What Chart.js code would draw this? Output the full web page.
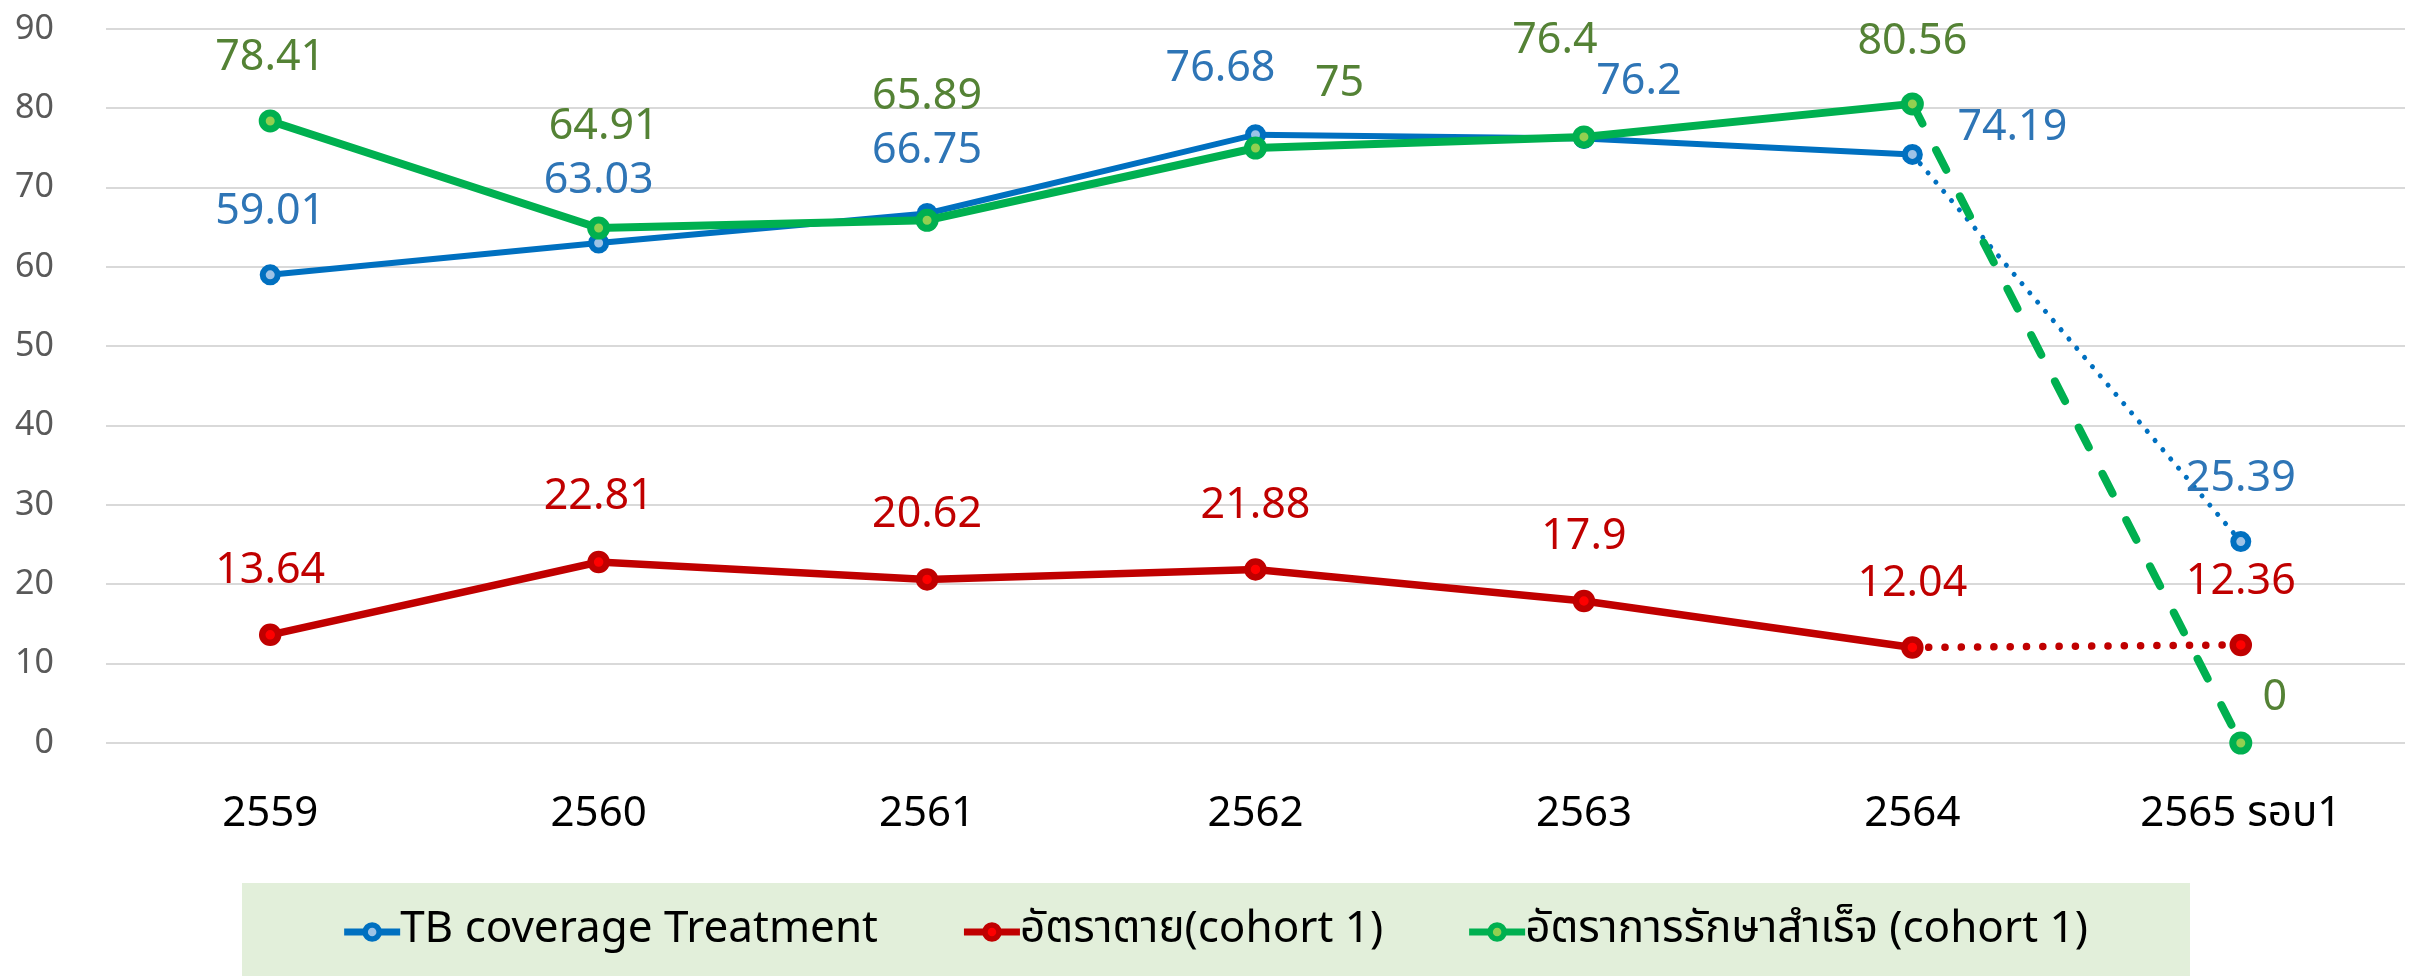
<!DOCTYPE html>
<html>
<head>
<meta charset="utf-8">
<script src="https://cdn.jsdelivr.net/npm/chart.js@4.4.1/dist/chart.umd.min.js"></script>
<style>
  html, body { margin: 0; padding: 0; background: #fff; overflow: hidden; }
  canvas { display: block; }
</style>
</head>
<body>
<canvas id="canvas" width="2420" height="976"></canvas>
<script>
var categories = ['2559', '2560', '2561', '2562', '2563', '2564', '2565 รอบ1'];
var coverageValues = [59.01, 63.03, 66.75, 76.68, 76.2, 74.19, 25.39];
var deathValues = [13.64, 22.81, 20.62, 21.88, 17.9, 12.04, 12.36];
var successValues = [78.41, 64.91, 65.89, 75, 76.4, 80.56, 0];
var seriesNames = ['TB coverage Treatment', 'อัตราตาย(cohort 1)', 'อัตราการรักษาสำเร็จ (cohort 1)'];
var yMin = 0, yMax = 90, yStep = 10;

var fontFamily = '"Noto Sans", "Noto Sans Thai", "Open Sans", sans-serif';

// where each value label sits relative to its point (label centre)
var labelOffsets = [
  [[0, -63], [0, -62], [0, -63], [-35, -66], [55, -57], [100, -27], [0, -63]],
  [[0, -64], [0, -65], [0, -65], [0, -64], [0, -64], [0, -64], [0, -63]],
  [[0, -63], [5, -101], [0, -124], [84, -64], [-29, -96], [0, -62], [34, -45]]
];
var labelColors = ['#2E75B6', '#C00000', '#548235'];

// last segment (2564 -> 2565) is dotted / dashed
var lastSeg = function(style, other) {
  return function(c) { return c.p0DataIndex === 5 ? style : other; };
};

var valueLabels = {
  id: 'valueLabels',
  afterDatasetsDraw: function(chart) {
    var ctx = chart.ctx;
    ctx.save();
    ctx.font = '43px ' + fontFamily;
    ctx.textAlign = 'center';
    ctx.textBaseline = 'middle';
    chart.data.datasets.forEach(function(ds, i) {
      var meta = chart.getDatasetMeta(i);
      ctx.fillStyle = labelColors[i];
      meta.data.forEach(function(pt, j) {
        var off = labelOffsets[i][j];
        ctx.fillText(String(ds.data[j]), pt.x + off[0], pt.y + off[1]);
      });
    });
    ctx.restore();
  }
};

var boxLegend = {
  id: 'boxLegend',
  afterDraw: function(chart) {
    var ctx = chart.ctx;
    var boxL = 242, boxR = 2190, boxT = 883, boxB = 976;
    var midY = 929, markW = 56, gap = 86;
    ctx.save();
    ctx.fillStyle = '#E2EFDA';
    ctx.fillRect(boxL, boxT, boxR - boxL, boxB - boxT);
    ctx.font = '44px ' + fontFamily;
    ctx.textBaseline = 'middle';
    ctx.textAlign = 'left';
    var widths = seriesNames.map(function(t) { return ctx.measureText(t).width; });
    var total = 0;
    widths.forEach(function(w, i) { total += markW + w + (i ? gap : 0); });
    var x = (boxL + boxR) / 2 - total / 2;
    chart.data.datasets.forEach(function(ds, i) {
      ctx.strokeStyle = ds.borderColor;
      ctx.lineWidth = 7;
      ctx.beginPath();
      ctx.moveTo(x, midY + 3);
      ctx.lineTo(x + markW, midY + 3);
      ctx.stroke();
      ctx.beginPath();
      ctx.arc(x + markW / 2, midY + 3, 7, 0, Math.PI * 2);
      ctx.fillStyle = ds.pointBackgroundColor;
      ctx.fill();
      ctx.lineWidth = 5.5;
      ctx.stroke();
      ctx.fillStyle = '#000';
      ctx.fillText(seriesNames[i], x + markW, midY);
      x += markW + widths[i] + gap;
    });
    ctx.restore();
  }
};

var ctx = document.getElementById('canvas').getContext('2d');

window.myLine = new Chart(ctx, {
  type: 'line',
  data: {
    labels: categories,
    datasets: [{
      label: seriesNames[0],
      data: coverageValues,
      borderColor: '#0070C0',
      borderWidth: 6,
      pointRadius: 7.5,
      pointBorderWidth: 6,
      pointBackgroundColor: '#9DC3E6',
      pointBorderColor: '#0070C0',
      order: 1,
      clip: false,
      segment: {
        borderDash: lastSeg([0.1, 12], undefined),
        borderCapStyle: lastSeg('round', undefined),
        borderWidth: lastSeg(5, undefined)
      }
    }, {
      label: seriesNames[1],
      data: deathValues,
      borderColor: '#C00000',
      borderWidth: 7.5,
      pointRadius: 8,
      pointBorderWidth: 6.5,
      pointBackgroundColor: '#FF0000',
      pointBorderColor: '#C00000',
      order: 2,
      clip: false,
      segment: {
        borderDash: lastSeg([0.1, 16.2], undefined),
        borderCapStyle: lastSeg('round', undefined)
      }
    }, {
      label: seriesNames[2],
      data: successValues,
      borderColor: '#00B050',
      borderWidth: 8,
      pointRadius: 8,
      pointBorderWidth: 7,
      pointBackgroundColor: '#92D050',
      pointBorderColor: '#00B050',
      order: 0,
      clip: false,
      segment: {
        borderDash: lastSeg([22, 30], undefined),
        borderCapStyle: lastSeg('round', undefined)
      }
    }]
  },
  options: {
    responsive: false,
    devicePixelRatio: 1,
    animation: false,
    layout: { padding: { top: 29, right: 14, left: 0, bottom: 0 } },
    plugins: {
      legend: { display: false },
      tooltip: { enabled: false }
    },
    scales: {
      x: {
        offset: true,
        grid: { display: false, drawTicks: false },
        border: { display: false },
        ticks: {
          color: '#000',
          font: { size: 42, family: fontFamily },
          padding: 46,
          autoSkip: false,
          maxRotation: 0
        },
        afterFit: function(s) { s.height = 233; }
      },
      y: {
        min: yMin,
        max: yMax,
        grid: { color: '#D9D9D9', lineWidth: 2, drawTicks: false },
        border: { display: false },
        ticks: {
          stepSize: yStep,
          color: '#595959',
          font: { size: 34, family: fontFamily },
          padding: 52
        },
        afterFit: function(s) {
          s.width = 106;
          s.paddingTop = 20;
          s.paddingBottom = 20;
        }
      }
    }
  },
  plugins: [valueLabels, boxLegend]
});
</script>
</body>
</html>
